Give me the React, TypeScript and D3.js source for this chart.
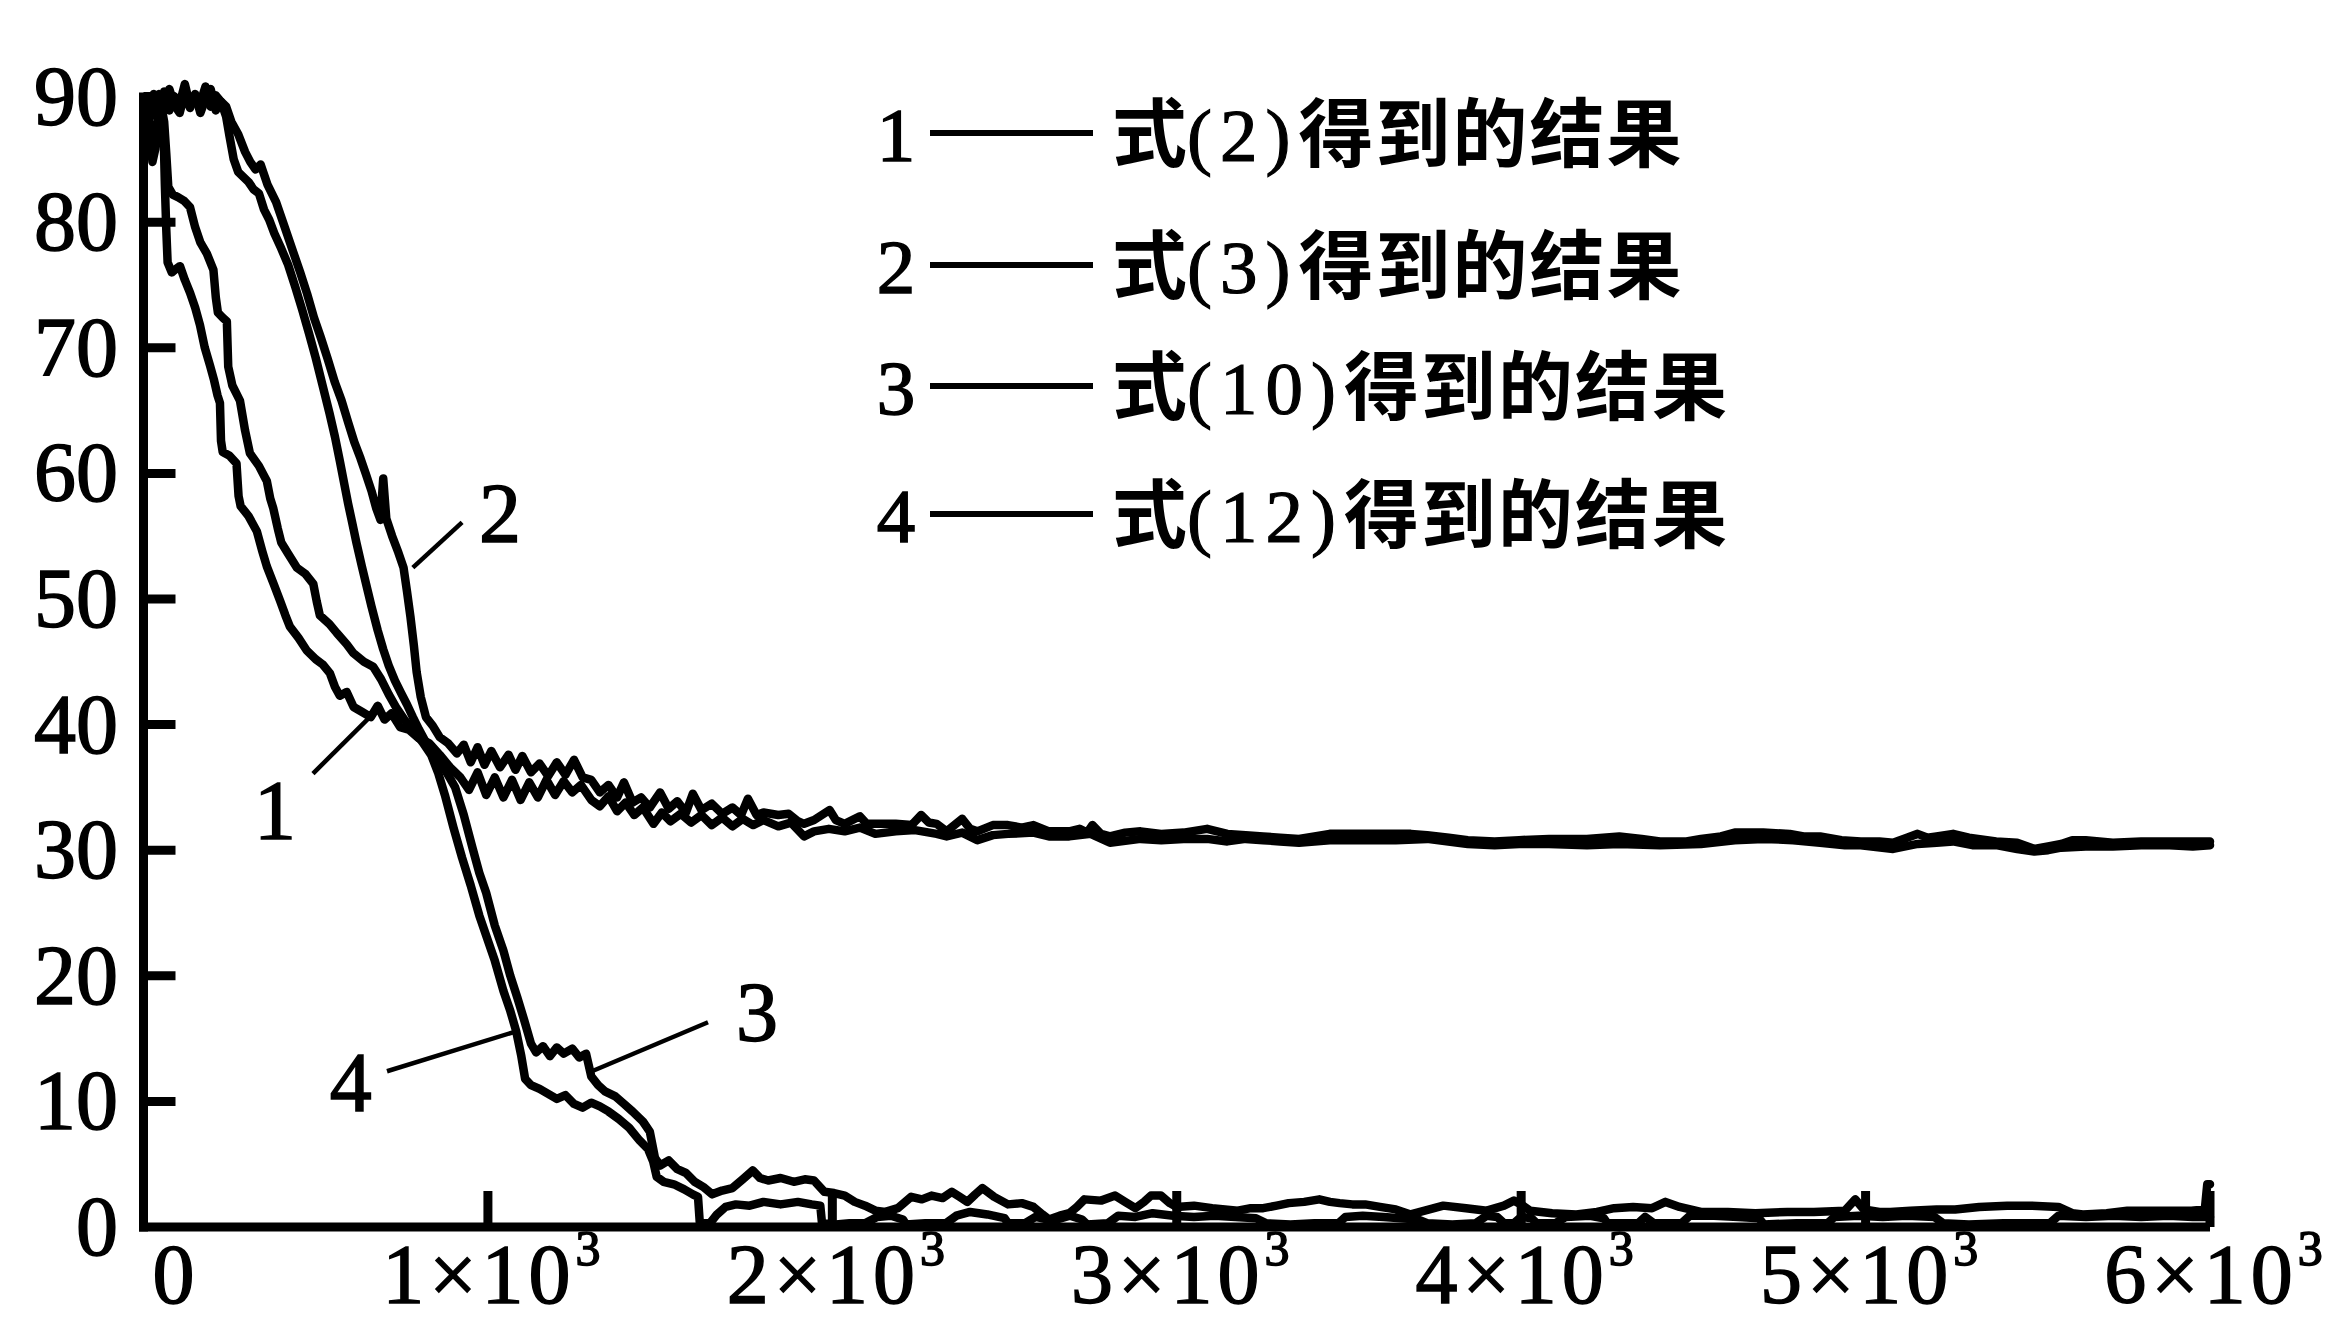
import React, { useEffect, useRef } from "react";
import * as d3 from "d3";

// 坐标轴刻度
const yTicks = [0, 10, 20, 30, 40, 50, 60, 70, 80, 90];
const xTicks = [0, 1000, 2000, 3000, 4000, 5000, 6000];
const xTickBase = ["0", "1×10", "2×10", "3×10", "4×10", "5×10", "6×10"];
const xTickExp = ["", "3", "3", "3", "3", "3", "3"];

// 图例
const curveIds = ["1", "2", "3", "4"];
const legendNames = ["式(2)得到的结果", "式(3)得到的结果", "式(10)得到的结果", "式(12)得到的结果"];

// 曲线 1
const series1 = [
  [0, 88.6], [10, 89.4], [18, 87.6], [26, 84.8], [34, 85.8], [42, 88.4], [52, 88.9], [58, 87.5], [62, 83.0], [66, 79.5],
  [70, 76.8], [82, 76.0], [95, 76.3], [106, 76.5], [120, 75.4], [135, 74.4], [150, 73.2], [164, 71.8], [178, 70.0], [193, 68.6],
  [205, 67.4], [215, 66.2], [222, 65.6], [225, 62.6], [230, 61.7], [250, 61.4], [270, 60.8], [276, 58.2], [282, 57.4], [305, 56.6],
  [329, 55.4], [345, 53.8], [358, 52.6], [378, 51.2], [396, 49.9], [412, 48.7], [425, 47.8], [450, 46.9], [474, 45.9], [500, 45.2],
  [520, 44.8], [541, 44.1], [556, 43.0], [570, 42.3], [590, 42.6], [610, 41.4], [635, 41.0], [660, 40.6], [680, 41.5], [700, 40.4],
  [720, 40.9], [745, 39.8], [770, 39.6], [800, 38.9], [830, 38.5], [860, 37.6], [890, 36.6], [920, 35.8], [945, 34.8], [970, 36.2],
  [995, 34.4], [1020, 35.8], [1045, 34.2], [1070, 35.6], [1095, 34.0], [1120, 35.4], [1145, 34.2], [1170, 35.6], [1195, 34.4], [1220, 35.5],
  [1245, 34.6], [1270, 35.2], [1300, 34.0], [1325, 33.5], [1350, 34.3], [1375, 33.1], [1400, 33.8], [1425, 32.8], [1450, 33.4], [1481, 32.1],
  [1505, 33.0], [1530, 32.3], [1560, 32.9], [1590, 32.2], [1620, 32.8], [1650, 32.0], [1680, 32.6], [1710, 31.9], [1740, 32.5], [1770, 32.0],
  [1800, 32.4], [1843, 31.9], [1880, 32.2], [1918, 31.1], [1947, 31.5], [1990, 31.7], [2036, 31.5], [2080, 31.8], [2125, 31.3], [2184, 31.5],
  [2240, 31.6], [2303, 31.3], [2332, 31.1], [2377, 31.4], [2421, 30.8], [2466, 31.2], [2510, 31.3], [2584, 31.4], [2629, 31.1], [2688, 31.1],
  [2750, 31.3], [2806, 30.6], [2895, 30.9], [2955, 30.8], [3020, 30.9], [3088, 30.9], [3147, 30.7], [3200, 30.9], [3251, 30.8], [3300, 30.7],
  [3355, 30.6], [3444, 30.8], [3547, 30.8], [3636, 30.8], [3727, 30.9], [3845, 30.5], [3923, 30.4], [3994, 30.5], [4081, 30.5], [4191, 30.4],
  [4285, 30.5], [4403, 30.4], [4522, 30.5], [4620, 30.8], [4703, 30.9], [4790, 30.8], [4868, 30.6], [4940, 30.4], [4986, 30.4], [5080, 30.1],
  [5151, 30.5], [5206, 30.6], [5254, 30.7], [5310, 30.4], [5379, 30.4], [5440, 30.1], [5490, 29.9], [5530, 30.0], [5568, 30.2], [5639, 30.3],
  [5718, 30.3], [5800, 30.4], [5883, 30.4], [5950, 30.3], [6000, 30.4],
];

// 曲线 2
const series2 = [
  [0, 88.8], [15, 89.9], [30, 88.6], [45, 90.2], [60, 89.0], [75, 90.6], [90, 89.3], [105, 88.7], [120, 90.3], [135, 89.1],
  [150, 90.0], [165, 89.5], [180, 90.8], [195, 89.2], [210, 90.1], [225, 89.6], [240, 89.2], [255, 88.0], [275, 87.0], [295, 85.6],
  [310, 84.8], [325, 84.2], [340, 84.6], [360, 83.0], [385, 81.6], [410, 79.6], [435, 77.6], [455, 76.0], [475, 74.3], [495, 72.4],
  [515, 70.8], [535, 69.1], [555, 67.3], [575, 65.8], [595, 64.0], [612, 62.5], [630, 61.2], [645, 60.0], [662, 58.6], [676, 57.2],
  [688, 56.3], [696, 59.6], [705, 56.4], [722, 55.0], [740, 53.7], [755, 52.5], [765, 50.6], [775, 48.6], [785, 46.3], [793, 44.2],
  [805, 42.2], [820, 40.6], [840, 39.9], [860, 39.0], [885, 38.5], [910, 37.7], [930, 38.4], [950, 37.0], [970, 38.2], [990, 36.8],
  [1010, 37.9], [1035, 36.6], [1060, 37.6], [1080, 36.4], [1100, 37.5], [1125, 36.2], [1150, 36.9], [1175, 35.9], [1200, 37.0], [1225, 36.0],
  [1250, 37.2], [1275, 35.8], [1300, 35.6], [1325, 34.6], [1350, 35.2], [1375, 34.2], [1395, 35.4], [1420, 33.8], [1445, 34.2], [1470, 33.4],
  [1500, 34.6], [1525, 33.3], [1550, 33.9], [1575, 33.0], [1595, 34.5], [1620, 33.2], [1650, 33.7], [1680, 32.9], [1710, 33.4], [1735, 32.8],
  [1755, 34.1], [1780, 32.8], [1800, 33.0], [1843, 32.8], [1873, 32.9], [1900, 32.3], [1918, 32.1], [1947, 32.4], [1992, 33.2], [2010, 32.4],
  [2036, 32.1], [2080, 32.7], [2100, 32.1], [2125, 32.1], [2184, 32.1], [2230, 32.0], [2258, 32.8], [2280, 32.2], [2303, 32.1], [2332, 31.5],
  [2377, 32.5], [2400, 31.7], [2421, 31.5], [2466, 32.0], [2510, 32.0], [2550, 31.8], [2584, 32.0], [2629, 31.5], [2688, 31.5], [2718, 31.7],
  [2740, 31.4], [2755, 32.0], [2780, 31.3], [2806, 31.1], [2850, 31.4], [2895, 31.5], [2955, 31.3], [3020, 31.4], [3088, 31.7], [3147, 31.3],
  [3200, 31.2], [3251, 31.1], [3300, 31.0], [3355, 30.9], [3400, 31.1], [3444, 31.3], [3547, 31.3], [3636, 31.3], [3680, 31.3], [3727, 31.2],
  [3790, 31.0], [3845, 30.8], [3923, 30.7], [3994, 30.8], [4081, 30.9], [4191, 30.9], [4285, 31.1], [4350, 30.9], [4403, 30.7], [4480, 30.7],
  [4522, 30.9], [4580, 31.1], [4620, 31.4], [4703, 31.4], [4780, 31.3], [4820, 31.1], [4868, 31.1], [4930, 30.8], [4986, 30.7], [5040, 30.7],
  [5080, 30.6], [5120, 31.0], [5151, 31.3], [5180, 31.0], [5206, 31.1], [5254, 31.3], [5300, 31.0], [5379, 30.7], [5440, 30.6], [5490, 30.1],
  [5530, 30.3], [5568, 30.5], [5600, 30.8], [5639, 30.8], [5718, 30.6], [5800, 30.7], [5883, 30.7], [5950, 30.7], [6000, 30.7],
];

// 曲线 3
const series3 = [
  [0, 89.6], [15, 88.8], [30, 90.2], [45, 89.0], [60, 90.4], [75, 88.9], [90, 90.0], [105, 89.4], [120, 91.0], [135, 89.3],
  [150, 90.2], [165, 88.7], [180, 89.8], [195, 90.6], [210, 88.9], [225, 89.6], [240, 88.4], [250, 86.8], [262, 85.0], [275, 84.0],
  [290, 83.6], [305, 83.2], [320, 82.6], [335, 82.3], [350, 81.0], [365, 80.2], [380, 79.1], [400, 77.9], [420, 76.6], [440, 74.9],
  [460, 73.1], [480, 71.2], [500, 69.2], [520, 67.0], [540, 64.8], [556, 62.9], [570, 61.0], [582, 59.3], [594, 57.6], [605, 56.2],
  [618, 54.5], [634, 52.6], [648, 51.0], [662, 49.4], [680, 47.5], [696, 46.0], [712, 44.7], [730, 43.5], [748, 42.5], [765, 41.6],
  [782, 40.6], [800, 39.6], [820, 38.6], [840, 37.9], [860, 37.0], [880, 36.2], [905, 35.0], [930, 32.8], [955, 30.2], [975, 28.2],
  [995, 26.6], [1020, 24.0], [1045, 22.0], [1065, 20.0], [1085, 18.3], [1105, 16.5], [1125, 14.6], [1140, 13.9], [1160, 14.4], [1180, 13.6],
  [1200, 14.3], [1220, 13.8], [1245, 14.2], [1265, 13.5], [1285, 13.8], [1300, 12.0], [1320, 11.3], [1340, 10.8], [1370, 10.4], [1395, 9.8],
  [1420, 9.2], [1450, 8.4], [1470, 7.6], [1485, 5.5], [1500, 4.9], [1525, 5.3], [1550, 4.6], [1575, 4.3], [1600, 3.6], [1625, 3.2],
  [1651, 2.6], [1680, 2.9], [1710, 3.1], [1740, 3.8], [1769, 4.5], [1790, 3.9], [1814, 3.7], [1850, 3.9], [1888, 3.6], [1920, 3.8],
  [1947, 3.7], [1977, 2.8], [2005, 2.7], [2036, 2.5], [2065, 2.0], [2095, 1.7], [2125, 1.3], [2154, 1.2], [2190, 1.5], [2229, 2.4],
  [2260, 2.2], [2288, 2.5], [2320, 2.3], [2347, 2.8], [2370, 2.4], [2392, 2.0], [2415, 2.6], [2436, 3.1], [2470, 2.4], [2510, 1.8],
  [2550, 1.9], [2584, 1.6], [2610, 1.0], [2629, 0.6], [2660, 0.9], [2688, 1.1], [2710, 1.6], [2732, 2.2], [2780, 2.1], [2821, 2.5],
  [2850, 2.0], [2880, 1.5], [2905, 2.0], [2925, 2.5], [2954, 2.5], [2980, 1.9], [2999, 1.6], [3050, 1.7], [3103, 1.5], [3140, 1.4],
  [3177, 1.3], [3215, 1.5], [3251, 1.5], [3290, 1.7], [3325, 1.9], [3370, 2.0], [3414, 2.2], [3445, 2.0], [3473, 1.9], [3510, 1.8],
  [3547, 1.8], [3590, 1.6], [3636, 1.4], [3679, 1.0], [3720, 1.3], [3774, 1.7], [3840, 1.5], [3900, 1.3], [3950, 1.7], [3979, 2.1],
  [4000, 1.8], [4026, 1.3], [4090, 1.1], [4160, 1.0], [4220, 1.2], [4270, 1.5], [4325, 1.6], [4380, 1.5], [4419, 2.0], [4460, 1.6],
  [4522, 1.2], [4600, 1.2], [4680, 1.1], [4773, 1.2], [4850, 1.2], [4940, 1.3], [4970, 2.2], [4995, 1.4], [5040, 1.2], [5072, 1.2],
  [5130, 1.3], [5206, 1.4], [5260, 1.4], [5330, 1.6], [5411, 1.7], [5480, 1.7], [5560, 1.6], [5600, 1.1], [5631, 1.0], [5700, 1.1],
  [5760, 1.3], [5820, 1.3], [5890, 1.3], [5946, 1.3], [5985, 1.4], [5992, 3.4], [6000, 3.4],
];

// 曲线 4
const series4 = [
  [0, 89.2], [12, 88.2], [25, 89.6], [38, 88.4], [50, 89.5], [60, 88.0], [66, 85.5], [72, 82.8], [85, 82.2], [100, 82.0],
  [118, 81.7], [135, 81.2], [150, 79.6], [165, 78.4], [184, 77.5], [203, 76.2], [210, 74.0], [216, 72.8], [230, 72.4], [242, 72.1],
  [246, 68.5], [258, 67.0], [280, 65.8], [295, 63.4], [309, 61.6], [335, 60.6], [358, 59.4], [368, 58.0], [377, 57.2], [390, 55.6],
  [400, 54.5], [420, 53.6], [445, 52.5], [470, 52.0], [493, 51.2], [503, 49.8], [512, 48.7], [540, 48.0], [561, 47.3], [590, 46.4],
  [609, 45.7], [640, 45.0], [667, 44.6], [690, 43.6], [712, 42.4], [735, 41.3], [760, 40.3], [785, 39.5], [810, 38.6], [835, 37.6],
  [855, 36.2], [875, 34.4], [900, 31.8], [925, 29.4], [950, 27.2], [975, 24.8], [1000, 22.8], [1020, 21.2], [1045, 18.8], [1065, 17.2],
  [1082, 15.6], [1097, 13.6], [1108, 11.8], [1125, 11.3], [1150, 11.0], [1175, 10.6], [1200, 10.2], [1225, 10.5], [1250, 9.8], [1275, 9.5],
  [1300, 9.9], [1325, 9.6], [1350, 9.2], [1380, 8.6], [1410, 7.9], [1440, 6.9], [1465, 6.2], [1480, 5.2], [1490, 4.0], [1510, 3.6],
  [1540, 3.4], [1570, 3.0], [1595, 2.6], [1610, 2.4], [1615, 0.4], [1645, 0.3], [1665, 1.0], [1690, 1.6], [1720, 1.8], [1760, 1.7],
  [1800, 2.0], [1850, 1.8], [1900, 2.0], [1940, 1.8], [1965, 1.7], [1970, 0.3], [2010, 0.2], [2050, 0.3], [2095, 0.3], [2130, 0.8],
  [2170, 0.9], [2205, 0.6], [2214, 0.2], [2270, 0.3], [2330, 0.3], [2360, 0.9], [2400, 1.2], [2450, 1.0], [2500, 0.7], [2510, 0.3],
  [2560, 0.3], [2590, 0.8], [2640, 0.5], [2690, 0.9], [2725, 0.6], [2740, 0.2], [2800, 0.3], [2830, 0.9], [2880, 0.8], [2930, 1.1],
  [2990, 0.9], [3050, 0.8], [3110, 0.9], [3170, 0.8], [3230, 0.7], [3260, 0.3], [3330, 0.2], [3400, 0.3], [3470, 0.3], [3490, 0.8],
  [3540, 0.9], [3600, 0.8], [3650, 0.7], [3700, 0.6], [3727, 0.3], [3800, 0.2], [3868, 0.3], [3900, 0.9], [3930, 0.8], [3950, 0.3],
  [3979, 0.3], [4000, 0.8], [4030, 0.7], [4045, 0.3], [4100, 0.3], [4130, 0.8], [4200, 0.9], [4240, 0.7], [4250, 0.3], [4340, 0.3],
  [4360, 0.8], [4385, 0.3], [4466, 0.3], [4490, 0.9], [4560, 0.9], [4630, 0.8], [4690, 0.7], [4705, 0.2], [4800, 0.3], [4890, 0.3],
  [4910, 0.8], [4980, 0.9], [5050, 0.8], [5120, 0.9], [5200, 0.8], [5225, 0.3], [5300, 0.2], [5400, 0.3], [5535, 0.3], [5560, 0.9],
  [5640, 0.8], [5720, 0.9], [5800, 0.8], [5880, 0.9], [5950, 0.8], [6000, 0.8],
];

// 曲线编号的引线 (数据坐标): 标注位置 t, 引线起点 1 -> 终点 2
const annotations = [
  { id: "1", tx: 382, ty: 33.1, x1: 492, y1: 36.1, x2: 657, y2: 40.6 },
  { id: "2", tx: 1035, ty: 56.8, x1: 925, y1: 56.1, x2: 782, y2: 52.5 },
  { id: "3", tx: 1781, ty: 17.0, x1: 1639, y1: 16.3, x2: 1302, y2: 12.4 },
  { id: "4", tx: 602, ty: 11.5, x1: 707, y1: 12.4, x2: 1073, y2: 15.5 },
];

function ConvergenceChart() {
  const svgRef = useRef(null);

  useEffect(() => {
    const width = 2343;
    const height = 1323;
    const serif = "'Liberation Serif', 'Times New Roman', serif";
    const cjk = "'Noto Sans CJK SC', sans-serif";

    const svg = d3.select(svgRef.current);
    svg.selectAll("*").remove();
    svg.attr("width", width).attr("height", height);
    svg.append("rect").attr("width", width).attr("height", height).attr("fill", "#fff");

    const x = d3.scaleLinear().domain([0, 6000]).range([143.5, 2210]);
    const y = d3.scaleLinear().domain([0, 90]).range([1227, 96.6]);

    // 曲线
    const line = d3.line().x((d) => x(d[0])).y((d) => y(d[1]));
    [series1, series2, series3, series4].forEach((s) => {
      svg.append("path")
        .datum(s)
        .attr("d", line)
        .attr("fill", "none")
        .attr("stroke", "#000")
        .attr("stroke-width", 8.5)
        .attr("stroke-linejoin", "round")
        .attr("stroke-linecap", "round");
    });

    // 坐标轴
    const axis = svg.append("g").attr("stroke", "#000").attr("stroke-width", 9);
    axis.append("line").attr("x1", x(0)).attr("x2", x(0)).attr("y1", y(0) + 4.5).attr("y2", y(90) - 4);
    axis.append("line").attr("x1", x(0) - 4.5).attr("x2", x(6000)).attr("y1", y(0)).attr("y2", y(0));
    yTicks.filter((t) => t > 0).forEach((t) => {
      axis.append("line").attr("x1", x(0)).attr("x2", x(0) + 32).attr("y1", y(t)).attr("y2", y(t));
    });
    xTicks.filter((t) => t > 0).forEach((t) => {
      axis.append("line").attr("x1", x(t)).attr("x2", x(t)).attr("y1", y(0)).attr("y2", y(0) - 36);
    });

    // Y 轴刻度标签
    yTicks.forEach((t) => {
      svg.append("text")
        .attr("x", 118)
        .attr("y", y(t) + 28)
        .attr("text-anchor", "end")
        .attr("font-family", serif)
        .attr("font-size", 84)
        .attr("stroke", "#000")
        .attr("stroke-width", 1.5)
        .text(String(t));
    });

    // X 轴刻度标签
    xTicks.forEach((t, i) => {
      const label = svg.append("text")
        .attr("x", x(t) + (t === 0 ? 30 : 6))
        .attr("y", 1303)
        .attr("text-anchor", "middle")
        .attr("font-family", serif)
        .attr("font-size", 84)
        .attr("letter-spacing", t === 0 ? 0 : 5)
        .attr("stroke", "#000")
        .attr("stroke-width", 1.5);
      label.append("tspan").text(xTickBase[i]);
      if (xTickExp[i]) {
        label.append("tspan").attr("dy", -38).attr("font-size", 50).text(xTickExp[i]);
      }
    });

    // 图例
    const rowY = [135, 267, 388, 516];
    curveIds.forEach((id, i) => {
      const cy = rowY[i];
      svg.append("text")
        .attr("x", 896)
        .attr("y", cy + 26)
        .attr("text-anchor", "middle")
        .attr("font-family", serif)
        .attr("font-size", 77)
        .attr("stroke", "#000")
        .attr("stroke-width", 1.5)
        .text(id);
      svg.append("line")
        .attr("x1", 930).attr("x2", 1093)
        .attr("y1", cy - 2).attr("y2", cy - 2)
        .attr("stroke", "#000").attr("stroke-width", 6);
      const m = legendNames[i].match(/^(.)(\(\d+\))(.*)$/);
      const txt = svg.append("text").attr("x", 1112).attr("y", cy + 26).attr("font-size", 75);
      txt.append("tspan").attr("font-family", cjk).attr("font-weight", 700).text(m[1]);
      txt.append("tspan")
        .attr("font-family", serif)
        .attr("letter-spacing", 8)
        .attr("stroke", "#000")
        .attr("stroke-width", 1.2)
        .text(m[2]);
      txt.append("tspan").attr("font-family", cjk).attr("font-weight", 700).attr("letter-spacing", 2).text(m[3]);
    });

    // 曲线编号
    annotations.forEach((a) => {
      svg.append("line")
        .attr("x1", x(a.x1)).attr("y1", y(a.y1))
        .attr("x2", x(a.x2)).attr("y2", y(a.y2))
        .attr("stroke", "#000").attr("stroke-width", 4.5);
      svg.append("text")
        .attr("x", x(a.tx))
        .attr("y", y(a.ty) + 28)
        .attr("text-anchor", "middle")
        .attr("font-family", serif)
        .attr("font-size", 84)
        .attr("stroke", "#000")
        .attr("stroke-width", 1.5)
        .text(a.id);
    });
  }, []);

  return (
    <div style={{ position: "absolute", left: 0, top: 0 }}>
      <svg ref={svgRef} style={{ display: "block" }}></svg>
    </div>
  );
}

export default function App() {
  return <ConvergenceChart />;
}
